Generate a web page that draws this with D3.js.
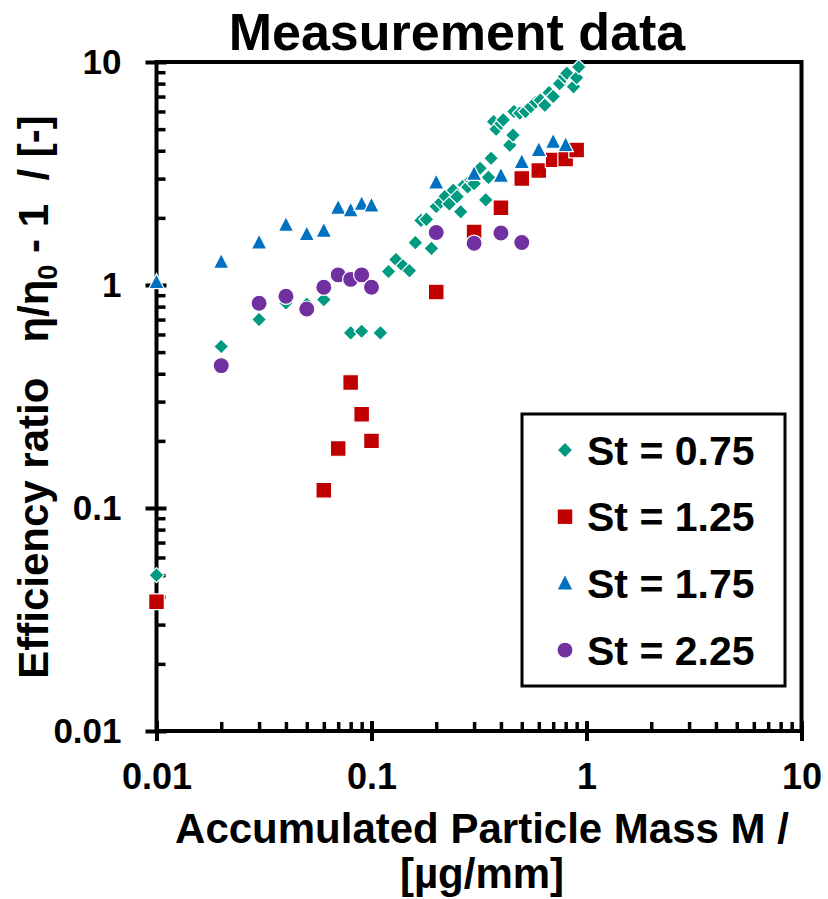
<!DOCTYPE html>
<html lang="en">
<head>
<meta charset="UTF-8">
<title>Measurement data</title>
<script src="https://d3js.org/d3.v7.min.js"></script>
<style>
  body { margin: 0; background: #fff; font-family: "Liberation Sans", Arial, sans-serif; }
  svg text { font-weight: bold; fill: #000; }
</style>
</head>
<body>
<div id="chart"></div>
<script>
// data (x = accumulated mass, y = efficiency ratio)
const st075x = [0.01, 0.02, 0.03, 0.04, 0.05, 0.06, 0.08, 0.09, 0.11, 0.12, 0.13, 0.14, 0.15, 0.16, 0.17, 0.18, 0.19,
                0.2, 0.21, 0.22, 0.23, 0.24, 0.25, 0.26, 0.27, 0.28, 0.29, 0.3, 0.32, 0.34, 0.35, 0.36,
                0.37, 0.38, 0.4, 0.41, 0.44, 0.455, 0.46, 0.49, 0.52, 0.55, 0.58, 0.61, 0.64, 0.67, 0.7,
                0.75, 0.79, 0.81, 0.87, 0.9, 0.92];
const st075y = [0.05, 0.53, 0.70, 0.83, 0.82, 0.86, 0.61, 0.62, 0.61, 1.15, 1.30, 1.22, 1.16, 1.55, 1.95, 1.97, 1.46,
                2.25, 2.35, 2.5, 2.31, 2.66, 2.49, 2.13, 2.81, 2.75, 2.96, 2.85, 3.34, 2.41, 3.04, 3.70,
                5.4, 5.0, 5.3, 5.5, 4.24, 4.7, 6.0, 5.9, 6.0, 6.3, 6.6, 6.75, 6.4, 7.3, 7.0,
                8.0, 8.6, 8.9, 7.75, 8.5, 9.5];
const st125x = [0.01, 0.06, 0.07, 0.08, 0.09, 0.1, 0.2, 0.3, 0.4, 0.5, 0.6, 0.7, 0.8, 0.9];
const st125y = [0.038, 0.12, 0.185, 0.365, 0.263, 0.20, 0.93, 1.73, 2.22, 3.0, 3.26, 3.64, 3.67, 4.03];
const st175x = [0.01, 0.02, 0.03, 0.04, 0.05, 0.06, 0.07, 0.08, 0.09, 0.1, 0.2, 0.3, 0.4, 0.5, 0.6, 0.7, 0.8];
const st175y = [1.03, 1.27, 1.55, 1.86, 1.69, 1.75, 2.22, 2.16, 2.31, 2.27, 2.88, 3.15, 3.09, 3.56, 4.03, 4.39, 4.24];
const st225x = [0.02, 0.03, 0.04, 0.05, 0.06, 0.07, 0.08, 0.09, 0.1, 0.2, 0.3, 0.4, 0.5];
const st225y = [0.435, 0.828, 0.89, 0.78, 0.977, 1.11, 1.06, 1.11, 0.977, 1.72, 1.54, 1.71, 1.55];

const seriesNames = ["St = 0.75", "St = 1.25", "St = 1.75", "St = 2.25"];
const majorTicks = [0.01, 0.1, 1, 10];
const tickLabels = ["0.01", "0.1", "1", "10"];

const W = 828, H = 899;
const plotL = 156.5, plotR = 801.5, plotT = 62, plotB = 731;

const svg = d3.select("#chart").append("svg")
    .attr("width", W)
    .attr("height", H);

const x = d3.scaleLog().domain([0.01, 10]).range([plotL, plotR]);
const y = d3.scaleLog().domain([0.01, 10]).range([plotB, plotT]);

// marker shapes
const diamond = { draw(ctx, size) { const r = Math.sqrt(size) / 2;
    ctx.moveTo(0, -r); ctx.lineTo(r, 0); ctx.lineTo(0, r); ctx.lineTo(-r, 0); ctx.closePath(); } };
const triangle = { draw(ctx, size) { const w = Math.sqrt(size);
    ctx.moveTo(0, -w * 0.55); ctx.lineTo(w / 2, w * 0.42); ctx.lineTo(-w / 2, w * 0.42); ctx.closePath(); } };

const series = [
  { name: seriesNames[0], xs: st075x, ys: st075y, color: "#009a80", type: diamond, size: 225 },
  { name: seriesNames[1], xs: st125x, ys: st125y, color: "#c00000", type: d3.symbolSquare, size: 246 },
  { name: seriesNames[2], xs: st175x, ys: st175y, color: "#0070c0", type: triangle, size: 240 },
  { name: seriesNames[3], xs: st225x, ys: st225y, color: "#7030a0", type: d3.symbolCircle, size: 205 }
];

// minor ticks
const minors = x.ticks().filter(v => majorTicks.indexOf(v) < 0);

svg.append("g")
    .attr("transform", "translate(0," + plotB + ")")
    .call(d3.axisTop(x).tickValues(minors).tickSize(9).tickFormat(""))
    .call(g => g.select(".domain").remove())
    .selectAll("line").attr("stroke", "#000").attr("stroke-width", 3.5);

svg.append("g")
    .attr("transform", "translate(" + plotL + ",0)")
    .call(d3.axisRight(y).tickValues(minors).tickSize(9).tickFormat(""))
    .call(g => g.select(".domain").remove())
    .selectAll("line").attr("stroke", "#000").attr("stroke-width", 3.5);

// frame
svg.append("rect")
    .attr("x", plotL).attr("y", plotT)
    .attr("width", plotR - plotL).attr("height", plotB - plotT)
    .attr("fill", "none").attr("stroke", "#000").attr("stroke-width", 4);

// major axes
const xAxis = svg.append("g")
    .attr("transform", "translate(0," + plotB + ")")
    .call(d3.axisBottom(x).tickValues(majorTicks).tickSize(10).tickPadding(22)
        .tickFormat((d, i) => tickLabels[i]));
xAxis.select(".domain").remove();
xAxis.selectAll(".tick line").attr("y1", -10).attr("stroke", "#000").attr("stroke-width", 4);
xAxis.selectAll(".tick text").style("font-size", "36px").attr("dy", "0.71em")
    .style("font-family", "'Liberation Sans', Arial, sans-serif");

const yAxis = svg.append("g")
    .attr("transform", "translate(" + plotL + ",0)")
    .call(d3.axisLeft(y).tickValues(majorTicks).tickSize(11).tickPadding(24)
        .tickFormat((d, i) => tickLabels[i]));
yAxis.select(".domain").remove();
yAxis.selectAll(".tick line").attr("x1", 10).attr("stroke", "#000").attr("stroke-width", 4);
yAxis.selectAll(".tick text").style("font-size", "35px")
    .style("font-family", "'Liberation Sans', Arial, sans-serif");

// points
series.forEach(s => {
  const pts = s.xs.map((v, i) => [v, s.ys[i]]);
  svg.append("g").selectAll("path")
    .data(pts)
    .enter().append("path")
    .attr("transform", d => "translate(" + x(d[0]) + "," + y(d[1]) + ")")
    .attr("d", d3.symbol().type(s.type).size(s.size))
    .attr("fill", s.color)
    .attr("stroke", "#fff")
    .attr("stroke-width", 1.2);
});

// title
svg.append("text")
    .attr("x", 457).attr("y", 50)
    .attr("text-anchor", "middle")
    .style("font-size", "52px")
    .text("Measurement data");

// x axis title
svg.append("text")
    .attr("x", 482).attr("y", 843)
    .attr("text-anchor", "middle")
    .style("font-size", "42px")
    .text("Accumulated Particle Mass M /");
svg.append("text")
    .attr("x", 482).attr("y", 888)
    .attr("text-anchor", "middle")
    .style("font-size", "42px")
    .text("[µg/mm]");

// y axis title
const yt = svg.append("text")
    .attr("transform", "translate(48,397) rotate(-90)")
    .attr("text-anchor", "middle")
    .style("font-size", "42px")
    .style("white-space", "pre");
yt.append("tspan").text("Efficiency ratio   η/η");
yt.append("tspan").attr("dy", 9).style("font-size", "27px").text("0");
yt.append("tspan").attr("dy", -9).text(" - 1  / [-]");

// legend
const lg = svg.append("g");
lg.append("rect")
    .attr("x", 522).attr("y", 414)
    .attr("width", 263).attr("height", 272)
    .attr("fill", "#fff").attr("stroke", "#000").attr("stroke-width", 3);

series.forEach((s, i) => {
  const cy = 450 + i * 66.7;
  lg.append("path")
    .attr("transform", "translate(565," + cy + ")")
    .attr("d", d3.symbol().type(s.type).size(s.size * 0.85))
    .attr("fill", s.color);
  lg.append("text")
    .attr("x", 587).attr("y", cy + 14.5)
    .style("font-size", "41px")
    .text(s.name);
});
</script>
</body>
</html>
